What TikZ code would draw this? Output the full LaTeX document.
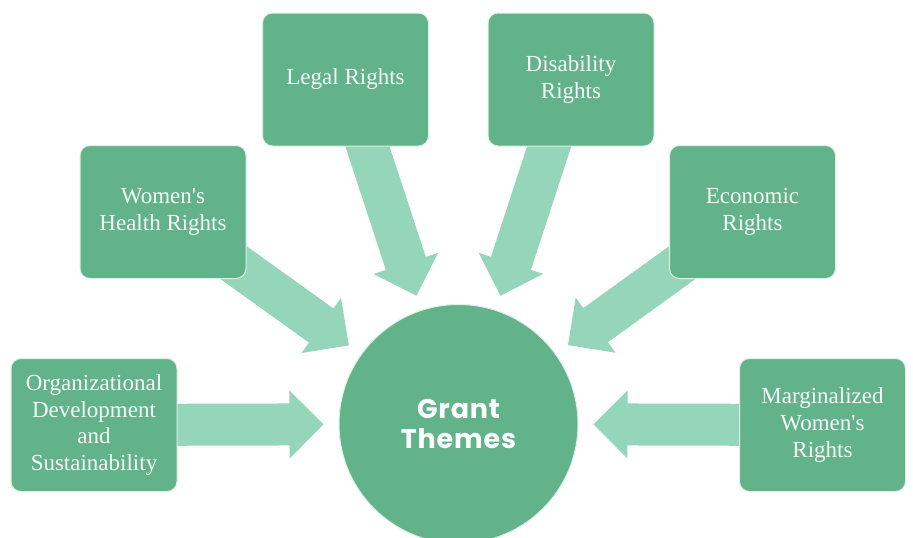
\documentclass[tikz,border=0pt]{standalone}
\usepackage{fontspec}
\setmainfont{Liberation Serif}
\newfontfamily\gfont{Poppins}[LetterSpace=3]
\usetikzlibrary{calc,backgrounds}
\definecolor{boxg}{RGB}{98,179,138}
\definecolor{arrg}{RGB}{149,214,186}
\definecolor{txtw}{RGB}{244,250,246}
\definecolor{edgew}{RGB}{222,240,230}
\newcommand\blockarrow[2]{%
  \coordinate (ba-s) at (#1.center);
  \coordinate (ba-t) at ($(#2.center)!135pt!(#1.center)$);
  \coordinate (ba-h) at ($(ba-t)!34pt!(ba-s)$);
  \fill[arrowfill] ($(ba-s)!21pt!90:(ba-t)$) -- ($(ba-h)!21pt!90:(ba-t)$)
    -- ($(ba-h)!34pt!90:(ba-t)$) -- (ba-t) -- ($(ba-h)!34pt!-90:(ba-t)$)
    -- ($(ba-h)!21pt!-90:(ba-t)$) -- ($(ba-s)!21pt!-90:(ba-t)$) -- cycle;}
\begin{document}
\begin{tikzpicture}[x=1pt,y=-1pt,
  theme/.style={rectangle, rounded corners=10pt, fill=boxg, draw=edgew,
    line width=1pt, minimum width=166pt, minimum height=133pt, inner sep=2pt,
    align=center, text=txtw, font=\fontsize{23}{26.7}\selectfont},
  hub/.style={circle, fill=boxg, draw=edgew, line width=1pt, minimum size=239pt,
    inner sep=0pt, align=center, text=white,
    font=\gfont\bfseries\fontsize{27}{30}\selectfont},
  arrowfill/.style={fill=arrg}]
\useasboundingbox (0,0) rectangle (913,538);
\clip (0,0) rectangle (913,538);
\node[theme] (org) at (94,425) {Organizational\\Development\\and\\Sustainability};
\node[theme] (marg) at (822.5,425) {Marginalized\\Women\textquotesingle s\\Rights};
\node[theme] (health) at (163,212) {Women\textquotesingle s\\Health Rights};
\node[theme] (legal) at (345.5,79.5) {Legal Rights};
\node[theme] (dis) at (571,79.5) {Disability\\Rights};
\node[theme] (econ) at (752.5,212) {Economic\\Rights};
\node[hub] (gt) at (458.5,424) {Grant\\Themes};
\begin{pgfonlayer}{background}
\fill[white] (0,0) rectangle (913,538);
\blockarrow{org}{gt}
\blockarrow{health}{gt}
\blockarrow{legal}{gt}
\blockarrow{dis}{gt}
\blockarrow{econ}{gt}
\blockarrow{marg}{gt}
\end{pgfonlayer}
\end{tikzpicture}
\end{document}
